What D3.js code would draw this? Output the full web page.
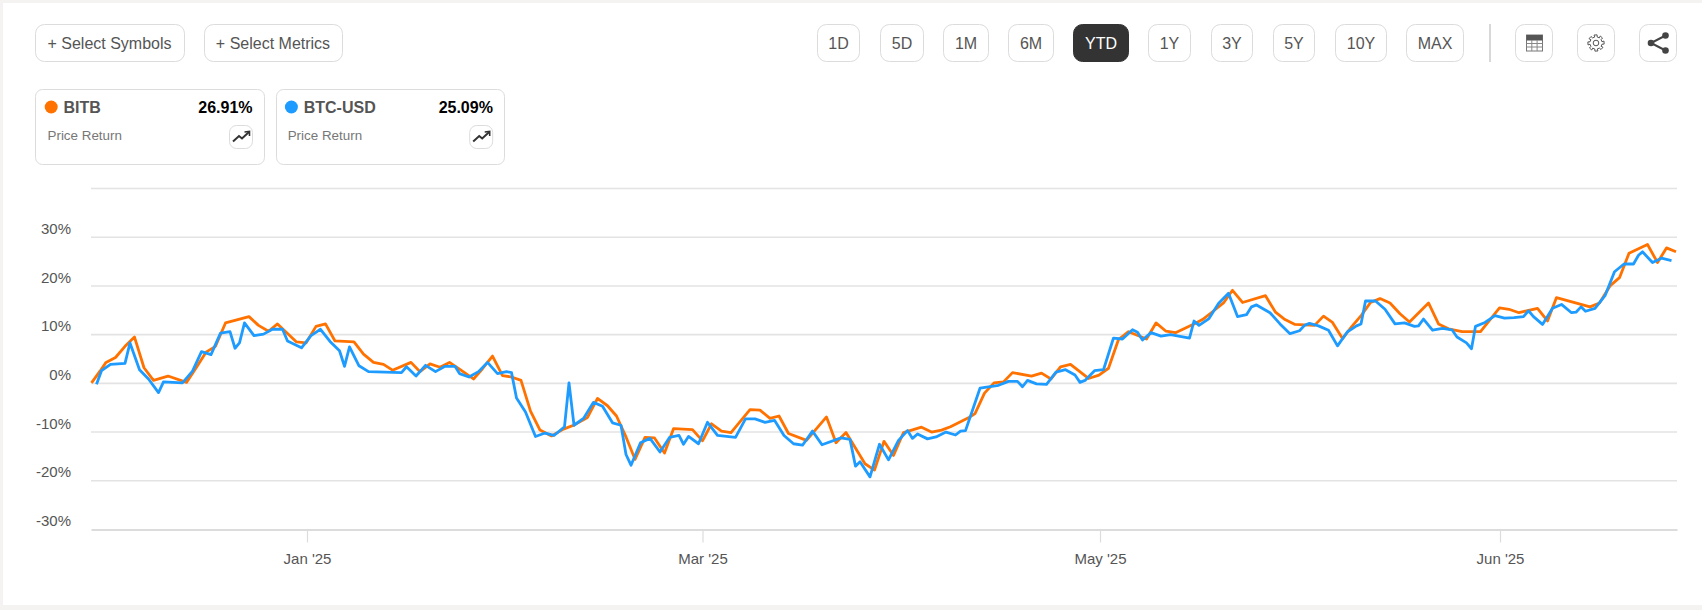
<!DOCTYPE html>
<html><head><meta charset="utf-8">
<script src="https://cdn.jsdelivr.net/npm/d3@7"></script>
<style>
html,body{margin:0;padding:0;background:#f5f3f2;overflow:hidden}
svg{display:block;font-family:"Liberation Sans",Arial,sans-serif}
</style></head><body><div id="c"></div>
<script>
// ---- data ----
const seriesNames = ["BITB","BTC-USD"];
const seriesReturns = ["26.91%","25.09%"];
const rangeLabels = ["1D","5D","1M","6M","YTD","1Y","3Y","5Y","10Y","MAX"];
const selectLabels = ["+ Select Symbols","+ Select Metrics"];
const yTicks = [40,30,20,10,0,-10,-20,-30];
const xTickLabels = ["Jan '25","Mar '25","May '25","Jun '25"];
const xTickSessions = [43.2,122.3,201.8,281.8];
const bitbSession = [0.1,1.8,3,4.9,6.8,8.7,10.6,12.5,15.4,19.1,21.1,23,24.9,26.9,31.6,33.5,35.5,37.3,41.1,43,45,46.9,48.8,52.6,54.5,56.5,58.5,60.3,64,65.8,67.8,69.8,71.7,73.7,76.5,78.3,80.3,82.3,84.1,86,87.9,89.8,92.1,94.5,96.5,99.3,101.3,103.3,105.1,107,108.8,110.8,112.7,114.7,116.5,120.3,122.3,124.1,126.1,128,131.8,133.8,135.8,137.6,139.5,143.1,147.1,149,151,154.8,156.7,158.6,160.5,162.5,166.1,168.1,170.1,171.9,175.8,176.8,178.7,180.6,182.5,184.3,188.1,190.1,192,193.9,195.9,199.5,201.6,203.5,205.5,207.5,211.1,213,215,216.9,220.8,222.3,224.3,226.5,228.3,230.3,234.9,236.9,238.8,240.8,244.7,246.5,248.3,250.3,252.1,254.1,255.9,257.8,259.8,261.8,263.7,267.5,269.5,271.5,274.2,277.9,281.7,283.6,285.6,289.3,291.3,293.1,299.8,301.7,303.8,305.7,307.6,311.3,313.3,315.1,317];
const bitbValues = [0,2.4,4.2,5.2,7.5,9.4,3.1,0.5,1.4,0.1,3.2,6.3,7.5,12.3,13.6,11.8,10.6,12.1,8.4,8.2,11.6,12.1,8.6,8.4,5.9,4.2,3.8,2.6,4.2,2.3,3.9,3.2,4.2,2.8,0.8,2.9,5.5,1.5,1.2,0.5,-5.8,-9.7,-10.9,-9.5,-8.7,-7.1,-3.2,-4.7,-6.8,-11.1,-15.7,-11.2,-11.3,-14.4,-9.4,-9.6,-11.9,-8.4,-9.9,-10.2,-5.5,-5.6,-7.3,-6.8,-10.4,-11.8,-7,-12.3,-10.2,-16.6,-17.9,-12,-14.9,-10.2,-9.1,-10.1,-9.7,-9,-7,-6.3,-2.1,0,0.2,2.1,1.4,2,0.8,3.3,3.8,0.9,1.6,3,8.9,10.5,9,12.3,10.6,10.3,12.2,13,14.6,16.4,19,16.5,17.9,14.5,13,12,11.8,13.7,12.4,9.1,11.5,13.9,16.5,17.3,16.4,14.2,12.5,16.4,12.1,11.1,10.5,10.5,15.4,15.1,14.4,15.3,12.7,17.5,15.6,16.4,19.9,21.6,26.6,28.4,24.7,27.7,26.9];
const btcSession = [1.1,2.1,3.9,6.8,7.8,9.7,11.5,13.5,14.5,18.3,20.3,22.1,24,25.9,27.8,28.8,29.7,30.7,32.6,34.5,36.3,38.3,39.3,42.1,44,45.9,47.8,49.7,50.7,51.7,53.6,55.5,62.1,63.1,65,66.9,68.9,70.8,72.8,73.7,75.6,77.5,79.3,81.3,83.1,84.1,85.1,86.9,88.9,90.8,92.6,94.7,95.6,96.6,98.5,100.5,102.3,104.3,106,107,108,109.9,111.8,113.8,115.7,117.6,118.5,119.5,121.5,123.3,125.3,128.9,130.9,132.8,134.8,136.7,138.6,140.5,142.3,144.3,146.2,150,151.8,152.9,153.8,155.8,157.7,159.5,161.5,163.3,164.3,165.3,167.3,169,171,172.9,173.9,174.9,177.8,181.5,183.5,185.3,186.3,187.3,189.1,191.1,193,194.9,196.8,197.8,198.8,200.7,202.5,204.5,206.3,208.3,209.3,210.3,212,214,215.9,219.7,220.6,221.6,223.6,225.5,227.5,229.3,231.1,232.1,233.1,235.8,237.8,239.8,241.7,242.7,243.7,245.5,247.5,249.3,251.3,253.1,254,254.9,256.9,258.8,260.8,262.7,264.7,265.5,266.5,268.3,270.3,272.2,273.2,275.1,276.1,276.9,278.8,280.8,282.7,284.6,286.5,287.5,288.5,290.3,292.3,294.1,296.1,297,298,298.9,300.8,302.8,304.7,306.6,308.5,309.5,310.3,312.3,314.1,316.1];
const btcValues = [-0.3,2.5,3.8,4,8.2,2.7,0.8,-2,0.2,0,2.4,6.4,5.8,10.2,10.5,7.1,8.2,12.3,9.7,10,11,11,8.6,7.2,9.7,11,8.5,6.6,3.4,7.4,3.5,2.3,2.1,3.3,1.4,3.6,2.3,3.4,3.4,1.9,1.2,2.3,4.2,1.9,2.3,2.1,-3.1,-6,-11,-10.3,-10.8,-9,0,-8.7,-7.3,-4,-4.8,-8.2,-8.7,-14.7,-16.9,-12.3,-11.4,-14.2,-11.2,-10.8,-12.6,-11,-12.5,-8.1,-10.8,-11.2,-7.4,-7.4,-8.1,-7.7,-10.8,-12.5,-12.8,-9.9,-12.7,-11.3,-11.6,-17.1,-16.2,-19.3,-12.6,-15.8,-11.8,-9.8,-11.4,-10.5,-11.5,-11.1,-10.1,-10.7,-9.9,-9.8,-1.1,-0.5,0.3,0.3,-0.8,0.5,-0.2,-0.3,2.2,2.7,1.6,0.1,0.5,2.5,2.7,9.2,9,10.9,10.4,8.8,10.3,9.6,9.9,9.2,12.7,11.8,13.2,16.3,18.4,13.6,14,15.6,16,14.4,12.1,10.1,10.7,11.8,12.2,11.7,10.8,7.6,10.5,11.7,12.1,16.8,16.8,15.1,12.1,12.3,11.6,11.7,13.1,10.8,11.2,10.9,9.4,8.2,7,11.6,12.4,13.8,13.3,13.4,13.6,14.8,13.6,12,15.3,16.1,14.4,14.5,15.6,14.7,15.3,17.9,22.8,24.4,24.4,26.2,26.9,24.7,25.6,25.1];

// ---- layout & style ----
const W=1702,H=610;
const colors=["#ff7200","#1e9bff"];
const ink="#555";
const border="#dcdcdc";
const svg=d3.select("#c").append("svg").attr("width",W).attr("height",H);
svg.append("rect").attr("x",3).attr("y",3).attr("width",W-3).attr("height",602).attr("fill","#fff");

function box(g,x0,x1,y0,y1,r,fill,stroke){
  g.append("rect").attr("x",x0+.5).attr("y",y0+.5).attr("width",x1-x0-1).attr("height",y1-y0-1)
   .attr("rx",r).attr("fill",fill||"#fff").attr("stroke",stroke||border);
}
// select buttons
const selectX=[[35,185],[204,343]];
selectLabels.forEach((t,i)=>{
  box(svg,selectX[i][0],selectX[i][1],24,62,9);
  svg.append("text").attr("x",(selectX[i][0]+selectX[i][1])/2-0.5).attr("y",48.5).attr("text-anchor","middle")
    .attr("font-size",16).attr("fill",ink).text(t);
});
// range buttons
const rangeX=[[817,860],[880,924],[943,989],[1008,1054],[1073,1129],[1148,1191],[1211,1253],[1273,1315],[1335,1387],[1406,1464]];
rangeLabels.forEach((t,i)=>{
  const on=t==="YTD";
  box(svg,rangeX[i][0],rangeX[i][1],24,62,9,on?"#333":"#fff",on?"#333":border);
  svg.append("text").attr("x",(rangeX[i][0]+rangeX[i][1])/2).attr("y",48.5).attr("text-anchor","middle")
    .attr("font-size",16).attr("fill",on?"#fff":ink).text(t);
});
svg.append("line").attr("x1",1490).attr("x2",1490).attr("y1",24).attr("y2",62).attr("stroke","#d8d8d8").attr("stroke-width",2);
// icon buttons
[[1515,1553],[1577,1615],[1639,1677]].forEach(b=>box(svg,b[0],b[1],24,62,9));
// table icon
const tb=svg.append("g").attr("transform","translate(1526.5,35)");
tb.append("rect").attr("width",16).attr("height",16).attr("fill","#fff").attr("stroke","#777");
tb.append("rect").attr("width",16).attr("height",5.5).attr("fill","#555");
[5.3,10.6].forEach(v=>tb.append("line").attr("x1",v).attr("x2",v).attr("y1",5).attr("y2",16).attr("stroke","#888"));
[8.5,12].forEach(v=>tb.append("line").attr("y1",v).attr("y2",v).attr("x1",0).attr("x2",16).attr("stroke","#888"));
// gear icon
const gr=svg.append("g").attr("transform","translate(1596,43)").attr("fill","none").attr("stroke","#555").attr("stroke-width",1);
gr.append("circle").attr("r",2.8);
const gearPts=[];
d3.range(8).forEach(i=>{
  const c=i*Math.PI/4;
  [[-0.24,8.2],[0.13,8.2],[0.2,6.1],[0.58,6.1]].forEach(p=>{
    const a=c+p[0]; gearPts.push([p[1]*Math.cos(a),p[1]*Math.sin(a)]);
  });
});
gr.append("path").attr("d",d3.line().curve(d3.curveLinearClosed)(gearPts));
// share icon
const sh=svg.append("g").attr("transform","translate(1658,43)");
const shp=[[7.5,-7.5],[-7,0],[7.5,7.5]];
sh.append("path").attr("d",d3.line()(shp)).attr("fill","none").attr("stroke","#444").attr("stroke-width",2);
shp.forEach(p=>sh.append("circle").attr("cx",p[0]).attr("cy",p[1]).attr("r",3.3).attr("fill","#444"));
// legend cards
const cardX=[[35,265],[276,505]];
seriesNames.forEach((n,i)=>{
  const x0=cardX[i][0], x1=cardX[i][1];
  box(svg,x0,x1,89,165,7);
  svg.append("circle").attr("cx",x0+16.2-i*0.8).attr("cy",107).attr("r",6.5).attr("fill",colors[i]);
  svg.append("text").attr("x",x0+28.5-i*0.8).attr("y",113).attr("font-size",16).attr("font-weight",700).attr("fill",ink).text(n);
  svg.append("text").attr("x",x0+217.5-i*0.6).attr("y",113).attr("text-anchor","end").attr("font-size",16).attr("font-weight",700).attr("fill","#000").text(seriesReturns[i]);
  svg.append("text").attr("x",x0+12.5-i*0.8).attr("y",140).attr("font-size",13.4).attr("fill","#777").text("Price Return");
  box(svg,x0+194-i*0.8,x0+218-i*0.8,125,149,7);
  const ic=svg.append("g").attr("transform",`translate(${x0+194-i*0.8},125)`);
  ic.append("path").attr("d",d3.line()([[4,16.5],[10,11],[13,13.5],[20,7]])).attr("fill","none").attr("stroke","#333").attr("stroke-width",2);
  ic.append("path").attr("d",d3.line()([[15.5,7],[20.5,6.5],[20.5,11]])).attr("fill","none").attr("stroke","#333").attr("stroke-width",1.6);
});
// scales
const x=d3.scaleLinear().domain([0,317.2]).range([91,1677]);
const y=d3.scaleLinear().domain([-30,40]).range([529,188]);
// grid and y labels
const gridAxis=d3.axisLeft(y).tickValues(yTicks.filter(d=>d>-30)).tickSize(-(1677-91)).tickFormat("");
const gg=svg.append("g").attr("transform","translate(91,0)").call(gridAxis);
gg.select(".domain").remove();
gg.selectAll("line").attr("stroke","#e3e3e3").attr("stroke-width",1.6);
svg.append("g").selectAll("text").data(yTicks.filter(d=>d<40)).join("text")
  .attr("x",71).attr("y",d=>y(d)-2.8).attr("text-anchor","end").attr("font-size",15).attr("fill",ink)
  .text(d=>d+"%");
// x axis
const xa=d3.axisBottom(x).tickValues(xTickSessions).tickSize(13).tickSizeOuter(0).tickFormat((d,i)=>xTickLabels[i]);
const xg=svg.append("g").attr("transform",`translate(0,${y(-30)+0.5})`).call(xa);
xg.select(".domain").attr("stroke","#dcdcdc").attr("stroke-width",2);
xg.selectAll("line").attr("stroke","#dcdcdc").attr("stroke-width",1.2);
xg.selectAll("text").attr("font-family","'Liberation Sans',Arial,sans-serif").attr("font-size",15).attr("fill",ink).attr("dy",0).attr("y",34.5);
// lines
const line=d3.line().x(d=>x(d[0])).y(d=>y(d[1]));
[[bitbSession,bitbValues],[btcSession,btcValues]].forEach((s,i)=>{
  svg.append("path").datum(d3.zip(s[0],s[1])).attr("d",line).attr("fill","none")
    .attr("stroke",colors[i]).attr("stroke-width",2.8).attr("stroke-linejoin","round");
});
</script></body></html>
